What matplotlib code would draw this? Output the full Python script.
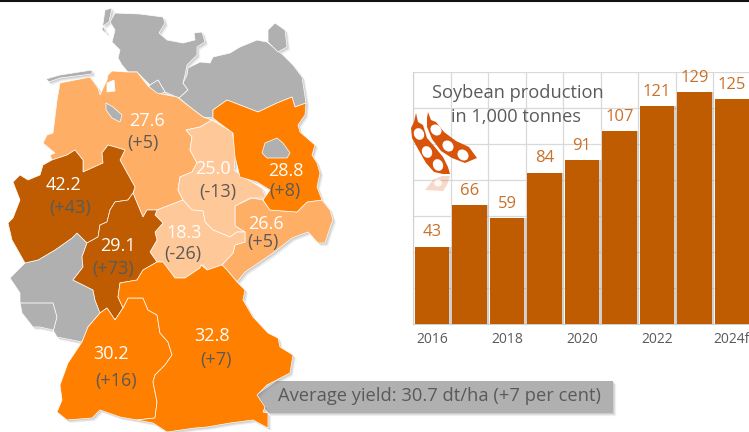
import matplotlib
matplotlib.use("Agg")
import matplotlib.pyplot as plt
from matplotlib.patches import Polygon, Ellipse

plt.rcParams["font.family"] = ["Open Sans", "DejaVu Sans"]

W, H = 749, 432

# bar chart
years = ["2016", "2017", "2018", "2019", "2020", "2021", "2022", "2023", "2024f"]
production = [43, 66, 59, 84, 91, 107, 121, 129, 125]
tick_years = ["2016", "2018", "2020", "2022", "2024f"]

# map outlines in pixels
schleswig = [(115, 13), (140, 14), (163, 17), (165, 23), (159, 33), (167, 40), (183, 43), (195, 40), (194, 33),
             (202, 32), (205, 42), (197, 47), (197, 55), (187, 65), (185, 75), (183, 83), (188, 90), (179, 98),
             (165, 92), (158, 80), (150, 85), (137, 72), (128, 72), (122, 65), (118, 58), (120, 50), (112, 42),
             (115, 30), (110, 22)]
hamburg = [(150, 85), (158, 80), (165, 92), (157, 95), (148, 88)]
mecklenburg = [(188, 68), (200, 62), (210, 63), (213, 57), (230, 53), (240, 47), (257, 40), (267, 42), (283, 55),
               (293, 65), (302, 77), (306, 103), (295, 107), (292, 97), (277, 103), (258, 112), (240, 105),
               (227, 100), (213, 110), (213, 118), (203, 117), (190, 107), (179, 98), (188, 90), (183, 83), (187, 75)]
ruegen = [(268, 30), (275, 23), (285, 30), (287, 47), (278, 52), (268, 42)]
sylt = [(105, 10), (112, 8), (109, 22), (103, 26), (107, 34), (102, 30)]
frisian = [(46, 79), (60, 75), (92, 70), (92, 74), (60, 78), (49, 82)]
lower_saxony = [(112, 71), (128, 72), (137, 72), (148, 86), (157, 93), (177, 97), (190, 107), (203, 117), (212, 120),
                (200, 127), (186, 130), (192, 137), (190, 150), (197, 163), (192, 172), (180, 177), (178, 190),
                (183, 200), (157, 210), (147, 210), (143, 217), (140, 210), (133, 193), (135, 187), (120, 160),
                (125, 150), (115, 147), (108, 145), (102, 153), (103, 163), (83, 172), (83, 160), (75, 150), (67, 155),
                (52, 160), (50, 155), (55, 153), (43, 143), (47, 135), (53, 133), (57, 100), (60, 83), (90, 77),
                (98, 88), (100, 95), (107, 80), (108, 75)]
bremen = [(107, 83), (114, 80), (115, 91), (107, 92)]
bremerhaven = [(106, 103), (113, 107), (122, 115), (120, 122), (112, 118), (106, 110)]
saxony_anhalt = [(212, 120), (232, 132), (236, 150), (234, 170), (245, 178), (262, 188), (266, 198), (250, 198),
                 (235, 206), (235, 226), (245, 232), (237, 232), (230, 237), (213, 230), (205, 222), (203, 211),
                 (192, 210), (183, 200), (178, 190), (180, 177), (192, 172), (197, 163), (190, 150), (192, 137),
                 (186, 130), (200, 127)]
thuringia = [(157, 210), (183, 200), (192, 210), (203, 211), (205, 222), (213, 230), (230, 237), (237, 232), (245, 232),
             (245, 242), (235, 245), (233, 253), (222, 265), (207, 270), (203, 265), (201, 265), (200, 268), (185, 278),
             (175, 278), (163, 262), (157, 262), (150, 252), (157, 240), (155, 232), (163, 223), (155, 215)]
saxony = [(235, 206), (252, 198), (263, 200), (270, 210), (297, 212), (307, 202), (322, 200), (330, 210), (333, 220),
          (331, 225), (325, 243), (318, 243), (308, 232), (292, 238), (273, 253), (245, 272), (237, 282), (227, 270),
          (222, 265), (233, 253), (235, 245), (245, 242), (245, 232), (235, 226)]
brandenburg = [(213, 110), (227, 100), (240, 105), (258, 112), (277, 103), (292, 97), (295, 107), (306, 103), (305, 115),
               (298, 125), (300, 132), (315, 145), (312, 155), (317, 163), (320, 173), (317, 187), (322, 200), (307, 202),
               (297, 212), (270, 210), (263, 200), (270, 190), (257, 182), (240, 177), (235, 157), (233, 133), (218, 122),
               (213, 118)]
berlin = [(265, 143), (277, 138), (283, 143), (290, 153), (287, 158), (267, 158), (262, 153)]
nrw = [(13, 182), (20, 175), (28, 180), (40, 175), (43, 165), (52, 160), (67, 155), (75, 150), (83, 160), (83, 172),
       (103, 163), (102, 153), (108, 145), (115, 147), (125, 150), (120, 160), (135, 187), (133, 193), (128, 200),
       (115, 202), (110, 210), (107, 222), (100, 225), (98, 237), (87, 243), (77, 233), (72, 238), (55, 250), (38, 260),
       (25, 263), (12, 240), (8, 223), (13, 218), (20, 200)]
hesse = [(133, 193), (140, 210), (143, 217), (147, 210), (157, 210), (155, 215), (163, 223), (155, 232), (157, 240),
         (150, 252), (157, 262), (143, 270), (137, 280), (120, 283), (118, 297), (123, 308), (115, 320), (107, 308),
         (100, 313), (95, 300), (93, 290), (73, 280), (83, 267), (82, 257), (87, 243), (98, 237), (100, 225), (107, 222),
         (110, 210), (115, 202), (128, 200)]
rhineland = [(10, 278), (25, 263), (38, 260), (55, 250), (72, 238), (77, 233), (87, 243), (82, 257), (83, 267), (73, 280),
             (93, 290), (95, 300), (100, 313), (88, 327), (82, 342), (57, 337), (53, 330), (40, 327), (33, 327), (22, 313),
             (20, 302), (20, 293)]
saar_line = [(20, 303), (53, 303), (57, 317), (53, 332)]
baden = [(100, 313), (107, 308), (115, 320), (123, 308), (128, 298), (143, 298), (148, 310), (157, 315), (160, 333),
         (168, 342), (172, 355), (165, 365), (155, 375), (153, 382), (157, 402), (155, 418), (137, 420), (120, 417),
         (100, 410), (92, 418), (67, 420), (57, 412), (62, 400), (60, 385), (68, 363), (82, 342), (88, 327)]
bavaria = [(123, 308), (118, 297), (120, 283), (137, 280), (143, 270), (157, 262), (163, 262), (175, 278), (185, 278),
           (200, 268), (201, 265), (207, 270), (222, 265), (227, 270), (237, 282), (245, 290), (243, 300), (253, 317),
           (268, 333), (278, 338), (280, 347), (293, 355), (290, 373), (267, 385), (257, 395), (265, 407), (263, 412),
           (268, 413), (268, 428), (253, 420), (230, 423), (207, 427), (195, 428), (167, 432), (153, 423), (137, 420),
           (155, 418), (157, 402), (153, 382), (155, 375), (165, 365), (172, 355), (168, 342), (160, 333), (157, 315),
           (148, 310), (143, 298), (128, 298)]
callout = [(257, 395), (277, 381), (613, 381), (613, 413), (268, 413)]

# soybean pods
pod_a = [(416, 113), (418, 122), (423, 125), (427, 138), (434, 146), (443, 157), (448, 167), (450, 174), (443, 174),
         (434, 172), (426, 163), (418, 149), (412, 138), (411, 128), (414, 122)]
pod_b = [(428, 112), (431, 120), (436, 122), (444, 132), (456, 141), (469, 147), (477, 158), (465, 163), (452, 158),
         (441, 151), (432, 139), (427, 127), (427, 118)]
holes_a = [(419, 134), (427, 152), (438, 165)]
holes_b = [(436, 130), (448, 146), (463, 155)]
reflection = [(425, 190), (433, 180), (442, 176), (450, 176), (447, 185), (443, 191)]

# yield and change per state
state_labels = [("27.6", 147, 121), ("25.0", 213, 169), ("28.8", 286, 171), ("42.2", 64, 185), ("26.6", 266, 224),
                ("18.3", 184, 233), ("29.1", 118, 246), ("32.8", 212, 336), ("30.2", 111, 354)]
change_labels = [("(+5)", 143, 143), ("(-13)", 218, 192), ("(+8)", 285, 191), ("(+43)", 70, 208), ("(+5)", 263, 242),
                 ("(-26)", 183, 254), ("(+73)", 113, 269), ("(+7)", 216, 360), ("(+16)", 116, 381)]

GREY = "#B0B0B0"
ORANGE = "#FF7F00"
LIGHT = "#FFAE66"
PALE = "#FFC898"
BROWN = "#BF5B00"
TEXT_GREY = "#5A5A5A"
VALUE = "#C9702A"
POD = "#D9540B"

fig = plt.figure(figsize=(W / 100, H / 100), dpi=100)
fig.patch.set_facecolor("white")

# full size axes in pixels for the map
mp = fig.add_axes([0, 0, 1, 1])
mp.set_xlim(0, W)
mp.set_ylim(H, 0)
mp.axis("off")
mp.plot([0, W], [0.5, 0.5], color="#111111", lw=1.5, zorder=1)


def soft_shadow(points, zorder=1.5):
    for off, alpha in [(3.2, 0.06), (2.5, 0.09), (1.8, 0.12), (1.0, 0.14)]:
        moved = [(px + off, py + off) for px, py in points]
        mp.add_patch(Polygon(moved, closed=True, facecolor="#707070", edgecolor="none", alpha=alpha, zorder=zorder))


def state(points, color, zorder=3):
    mp.add_patch(Polygon(points, closed=True, facecolor=color, edgecolor="#FFFFFF", lw=0.5, zorder=zorder))


soft_shadow(callout)
mp.add_patch(Polygon(callout, closed=True, facecolor=GREY, edgecolor="none", zorder=1.8))

all_states = [(schleswig, GREY), (hamburg, GREY), (mecklenburg, GREY), (ruegen, GREY), (sylt, GREY), (frisian, GREY),
              (rhineland, GREY), (lower_saxony, LIGHT), (saxony, LIGHT), (saxony_anhalt, PALE), (thuringia, PALE),
              (nrw, BROWN), (hesse, BROWN), (brandenburg, ORANGE), (baden, ORANGE), (bavaria, ORANGE)]
for pts, col in all_states:
    soft_shadow(pts, zorder=2)
for pts, col in all_states:
    state(pts, col)
state(bremen, "white", zorder=4)
state(bremerhaven, GREY, zorder=4)
state(berlin, GREY, zorder=4)
mp.plot(*zip(*saar_line), color="white", lw=0.6, zorder=4)

for label, x, y in state_labels:
    mp.text(x, y, label, color="white", fontsize=13, ha="center", va="center", zorder=6)
for label, x, y in change_labels:
    mp.text(x, y, label, color=TEXT_GREY, fontsize=13, ha="center", va="center", zorder=6)

mp.text(278, 396, "Average yield: 30.7 dt/ha (+7 per cent)", color=TEXT_GREY, fontsize=13.2, va="center", zorder=6)

# pods go over the grid of the bar chart
ax = fig.add_axes([413.5 / W, 1 - 324 / H, 337 / W, 252 / H])
ax.patch.set_alpha(0)
top = fig.add_axes([0, 0, 1, 1])
top.set_xlim(0, W)
top.set_ylim(H, 0)
top.axis("off")
for pod, holes, angle in [(pod_a, holes_a, -25), (pod_b, holes_b, -45)]:
    top.add_patch(Polygon(pod, closed=True, facecolor=POD, edgecolor="none", zorder=3))
    for hx, hy in holes:
        top.add_patch(Ellipse((hx, hy), 10, 12, angle=angle, facecolor="white", edgecolor="none", zorder=4))
top.add_patch(Polygon(reflection, closed=True, facecolor=POD, edgecolor="none", alpha=0.22, zorder=3))
top.add_patch(Ellipse((438, 183), 8, 7, facecolor="white", edgecolor="none", alpha=0.8, zorder=4))

# bars
x = list(range(len(years)))
for off, alpha in [(2.4, 0.12), (1.4, 0.2)]:
    ax.bar([i + off / 37.4 for i in x], production, width=0.92, color="#707070", alpha=alpha, zorder=2)
ax.bar(x, production, width=0.92, color=BROWN, zorder=3)
for xi, val in zip(x, production):
    ax.text(xi, val + 3.5, str(val), color=VALUE, fontsize=12, ha="center", va="bottom", zorder=5, clip_on=False)
ax.set_xlim(-0.5, 8.5)
ax.set_ylim(0, 140)
ax.set_yticks(range(0, 141, 20))
ax.set_xticks([i - 0.5 for i in range(10)])
ax.set_xticklabels([])
ax.grid(True, color="#D9D9D9", lw=0.9, zorder=0)
ax.tick_params(length=0, labelleft=False)
for side in ["top", "right"]:
    ax.spines[side].set_visible(False)
for side in ["left", "bottom"]:
    ax.spines[side].set_color("#D0D0D0")
for label in tick_years:
    ax.text(years.index(label), -8.5, label, color=TEXT_GREY, fontsize=10, ha="center", va="center", clip_on=False)

top.text(432, 93, "Soybean production", color=TEXT_GREY, fontsize=13.15, va="center", zorder=6)
top.text(451, 117, "in 1,000 tonnes", color=TEXT_GREY, fontsize=13.15, va="center", zorder=6)

fig.savefig("out.png", dpi=100)
